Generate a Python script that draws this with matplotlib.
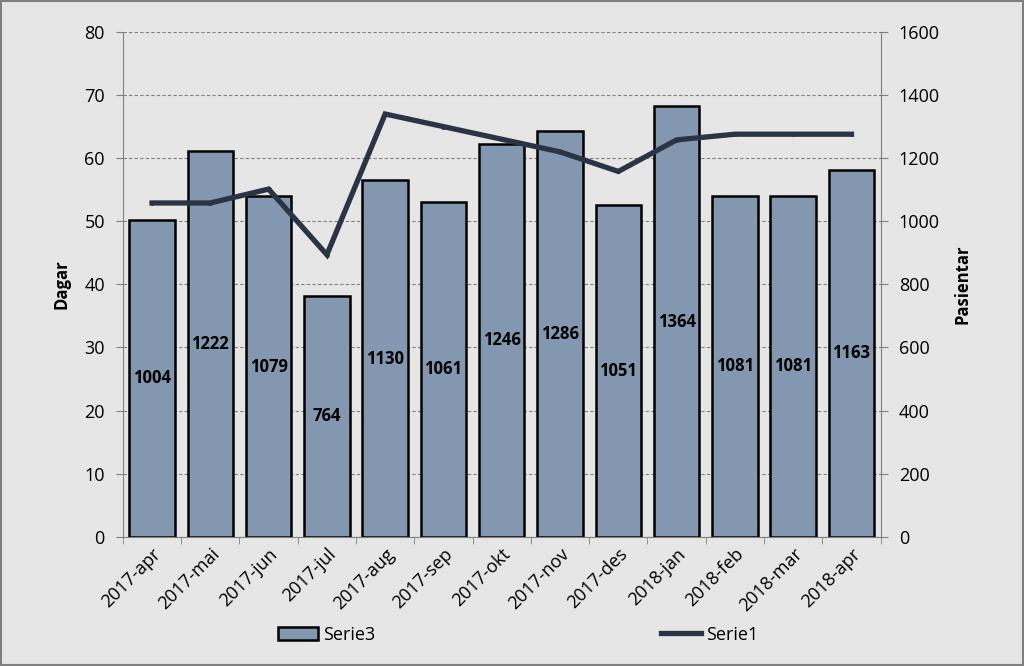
import matplotlib.pyplot as plt
import numpy as np
from matplotlib.lines import Line2D
from matplotlib.patches import Patch, Rectangle

plt.rcParams['font.family'] = ['Open Sans', 'DejaVu Sans']

months = ['2017-apr', '2017-mai', '2017-jun', '2017-jul', '2017-aug', '2017-sep',
          '2017-okt', '2017-nov', '2017-des', '2018-jan', '2018-feb', '2018-mar', '2018-apr']
# Serie3: pasientar (bars, right axis)
serie3 = [1004, 1222, 1079, 764, 1130, 1061, 1246, 1286, 1051, 1364, 1081, 1081, 1163]
# Serie1: dagar (line, left axis)
serie1 = [52.9, 52.9, 55.1, 44.7, 67.0, 65.0, 63.0, 61.0, 57.9, 62.9, 63.8, 63.8, 63.8]

bg = '#e6e6e6'
bar_col = '#8497b0'
line_col = '#2b3444'

fig = plt.figure(figsize=(10.24, 6.66), dpi=100, facecolor=bg)
ax = fig.add_axes([0.12, 0.194, 0.74, 0.758])
ax2 = ax.twinx()
ax.set_zorder(2)
ax.patch.set_visible(False)
ax2.set_zorder(1)
ax2.set_facecolor(bg)

x = np.arange(len(months))

# bars on right axis
ax2.bar(x, serie3, width=0.78, color=bar_col, edgecolor='black', linewidth=1.8, zorder=3)
for i, v in enumerate(serie3):
    ax2.text(i, v / 2, str(v), ha='center', va='center', fontsize=12, fontweight='bold', zorder=4)
ax2.set_ylim(0, 1600)
ax2.set_yticks(range(0, 1601, 200))
ax2.grid(axis='y', linestyle=(0, (3, 2)), color='#808080', linewidth=0.8)
ax2.set_axisbelow(True)
ax2.set_ylabel('Pasientar', fontsize=12, fontweight='bold', labelpad=10)

# line on left axis
ax.plot(x, serie1, color=line_col, linewidth=3.8, marker='o', markersize=2.5,
        solid_joinstyle='miter', zorder=5)
ax.set_ylim(0, 80)
ax.set_yticks(range(0, 81, 10))
ax.set_xlim(-0.5, len(months) - 0.5)
ax.set_xticks(x)
ax.set_xticklabels(months, rotation=45, ha='right', rotation_mode='anchor', fontsize=13)
ax.set_ylabel('Dagar', fontsize=12, fontweight='bold', labelpad=10)

for a in (ax, ax2):
    a.tick_params(axis='y', labelsize=13, length=5, color='#808080', pad=8)
    for s in a.spines.values():
        s.set_visible(False)
ax.spines['left'].set_visible(True)
ax.spines['left'].set_color('#808080')
ax.spines['bottom'].set_visible(True)
ax.spines['bottom'].set_color('#808080')
ax2.spines['right'].set_visible(True)
ax2.spines['right'].set_color('#808080')
ax.set_xticks(np.arange(-0.5, len(months), 1), minor=True)
ax.tick_params(axis='x', which='major', length=0, pad=6)
ax.tick_params(axis='x', which='minor', length=5, color='#808080')

handles = [Patch(facecolor=bar_col, edgecolor='black', linewidth=1.8),
           Line2D([0], [0], color=line_col, linewidth=3.8, marker='o', markersize=2.5)]
fig.legend(handles, ['Serie3', 'Serie1'], loc='center', bbox_to_anchor=(0.506, 0.047),
           ncol=2, frameon=False, fontsize=13, columnspacing=15.8, handlelength=2.2,
           handletextpad=0.3)

fig.patches.append(Rectangle((0.001, 0.001), 0.998, 0.998, transform=fig.transFigure,
                             fill=False, edgecolor='#808080', linewidth=1.5))

fig.savefig('out.png', dpi=100, facecolor=bg)
